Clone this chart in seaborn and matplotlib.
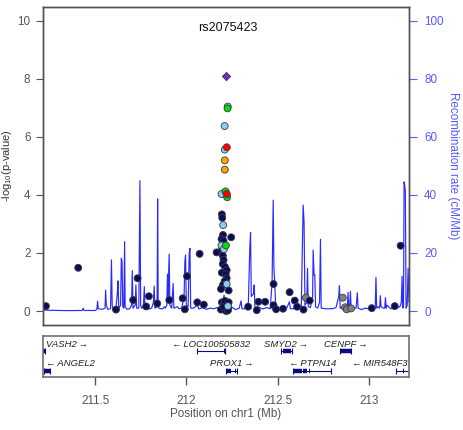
import numpy as np
import pandas as pd
import seaborn as sns
import matplotlib.pyplot as plt

# SNPs: position (Mb), -log10 p, LD bin
navy_pos = [211.231, 211.408, 211.615, 211.709, 211.733, 211.780, 211.795, 211.841, 211.907,
            211.980, 211.992, 212.004, 212.060, 212.073, 212.096, 212.166, 212.246,
            212.195, 212.197, 212.201, 212.193, 212.204, 212.195, 212.200, 212.204, 212.200,
            212.212, 212.221, 212.195, 212.216, 212.221, 212.210, 212.201, 212.190, 212.232,
            212.195, 212.205, 212.215, 212.225, 212.200, 212.210, 212.220, 212.230, 212.190,
            212.218, 212.228, 212.205, 212.212, 212.232,
            212.339, 212.386, 212.395, 212.432, 212.478, 212.478, 212.492, 212.530, 212.566,
            212.594, 212.607, 212.642, 212.676, 213.016, 213.142, 213.174]
navy_logp = [0.17, 1.49, 0.05, 0.38, 1.13, 0.16, 0.51, 0.26, 0.38,
             0.44, 0.06, 1.20, 0.30, 1.97, 0.22, 2.02, 2.54,
             3.33, 3.21, 2.62, 2.48, 2.42, 2.12, 1.91, 1.76, 1.62,
             1.52, 1.41, 1.32, 1.27, 1.13, 1.03, 0.90, 0.76, 0.71,
             0.30, 0.25, 0.20, 0.28, 0.10, 0.05, 0.08, 0.12, 0.05,
             0.00, 0.02, 0.15, 0.35, 0.30,
             0.15, 0.03, 0.32, 0.32, 0.93, 0.20, 0.06, 0.08, 0.65,
             0.36, 0.15, 0.05, 0.36, 0.10, 0.17, 2.25]
lblue_pos = [212.227, 212.210, 212.211, 212.204, 212.193, 212.202, 212.193, 212.206, 212.221, 212.228]
lblue_logp = [7.04, 6.37, 5.56, 4.05, 4.03, 2.96, 2.26, 2.13, 0.93, 0.17]
green_pos = [212.226, 212.215, 212.224, 212.217]
green_logp = [6.98, 4.12, 3.92, 2.26]
orange_pos = [212.211, 212.211]
orange_logp = [5.19, 4.87]
red_pos = [212.222, 212.222]
red_logp = [5.64, 4.03]
grey_pos = [212.655, 212.857, 212.870, 212.879, 212.903]
grey_logp = [0.46, 0.46, 0.13, 0.06, 0.09]

lead_snp = "rs2075423"
lead_pos = [212.220]
lead_logp = [8.09]

# recombination rate (cM/Mb)
recomb_pos = [211.215, 211.230, 211.300, 211.340, 211.430, 211.435, 211.440, 211.500, 211.510, 211.514,
              211.518, 211.540, 211.555, 211.558, 211.562, 211.570, 211.585, 211.590, 211.594, 211.600,
              211.615, 211.622, 211.626, 211.630, 211.640, 211.644, 211.648, 211.652, 211.658, 211.662,
              211.665, 211.675, 211.690, 211.700, 211.704, 211.708, 211.720, 211.724, 211.728, 211.740,
              211.746, 211.750, 211.755, 211.765, 211.770, 211.774, 211.790, 211.810, 211.820, 211.824,
              211.828, 211.840, 211.843, 211.846, 211.850, 211.870, 211.880, 211.885, 211.893, 211.897,
              211.900, 211.906, 211.910, 211.920, 211.928, 211.932, 211.950, 211.960, 211.975, 211.988,
              211.992, 211.996, 212.000, 212.010, 212.016, 212.020, 212.024, 212.040, 212.060, 212.070,
              212.090, 212.110, 212.130, 212.150, 212.170, 212.190, 212.200, 212.207, 212.212, 212.230,
              212.245, 212.270, 212.290, 212.300, 212.305, 212.330, 212.340, 212.348, 212.352, 212.356,
              212.368, 212.372, 212.376, 212.390, 212.420, 212.440, 212.460, 212.470, 212.476, 212.480,
              212.485, 212.490, 212.510, 212.530, 212.550, 212.565, 212.570, 212.590, 212.610, 212.630,
              212.640, 212.645, 212.650, 212.660, 212.664, 212.668, 212.680, 212.692, 212.695, 212.700,
              212.704, 212.708, 212.720, 212.730, 212.735, 212.739, 212.760, 212.800, 212.820, 212.835,
              212.839, 212.843, 212.860, 212.870, 212.875, 212.882, 212.886, 212.890, 212.895, 212.899,
              212.903, 212.930, 212.937, 212.941, 212.960, 212.980, 213.000, 213.020, 213.035, 213.039,
              213.043, 213.050, 213.059, 213.063, 213.067, 213.080, 213.087, 213.091, 213.095, 213.100,
              213.120, 213.150, 213.170, 213.178, 213.182, 213.186, 213.190, 213.193, 213.197, 213.200,
              213.204, 213.210, 213.215, 213.220]
recomb_rate = [0.4, 0.3, 0.2, 0.15, 0.2, 1.0, 0.2, 0.2, 0.5, 3.4,
               0.8, 0.6, 1.0, 7.2, 2.0, 0.6, 0.8, 17.6, 2.0, 0.5,
               1.2, 6.0, 10.4, 1.0, 2.0, 18.2, 17.0, 1.5, 1.0, 23.9,
               1.5, 0.6, 0.8, 2.0, 13.9, 1.0, 2.0, 9.0, 1.0, 1.0,
               44.9, 2.0, 1.0, 1.5, 8.4, 1.0, 0.6, 1.0, 3.0, 8.6,
               1.0, 1.5, 38.6, 3.0, 1.0, 0.7, 1.5, 1.0, 2.0, 12.7,
               5.0, 19.6, 2.0, 1.0, 9.5, 1.0, 1.5, 0.8, 1.0, 5.0,
               17.0, 19.3, 2.0, 1.5, 20.0, 21.6, 1.0, 1.0, 2.0, 0.7,
               1.2, 0.6, 1.0, 0.8, 1.2, 1.0, 2.5, 5.5, 1.0, 0.8,
               1.5, 0.5, 1.0, 3.5, 0.8, 0.8, 3.0, 22.0, 27.0, 5.0,
               6.0, 9.0, 1.0, 1.5, 0.7, 1.2, 0.8, 10.0, 38.2, 15.0,
               9.0, 1.0, 0.6, 0.5, 1.0, 3.2, 0.8, 0.8, 1.0, 1.5,
               36.5, 31.0, 2.0, 3.0, 14.7, 1.5, 1.2, 5.0, 21.0, 12.4,
               12.4, 1.5, 1.0, 3.0, 24.7, 1.0, 0.8, 0.8, 1.2, 5.0,
               8.7, 1.0, 1.0, 2.0, 0.8, 1.0, 6.4, 1.0, 1.0, 6.8,
               1.0, 1.0, 6.3, 1.0, 0.5, 1.0, 0.8, 1.5, 1.0, 11.6,
               1.0, 1.5, 1.0, 5.3, 1.5, 1.0, 1.0, 4.6, 1.0, 2.0,
               0.8, 1.0, 1.5, 3.0, 12.0, 1.0, 2.0, 44.5, 43.0, 41.0,
               1.0, 2.0, 14.7, 3.0]

# genes
gene_names = ["VASH2", "ANGEL2", "LOC100505832", "PROX1", "SMYD2", "CENPF", "PTPN14", "MIR548F3"]
gene_start = [211.200, 211.222, 212.056, 212.218, 212.520, 212.840, 212.585, 213.150]
gene_end = [211.226, 211.256, 212.210, 212.278, 212.578, 212.904, 212.795, 213.230]
gene_strand = ["+", "-", "-", "+", "+", "+", "-", "-"]
gene_row = [0, 1, 0, 1, 0, 0, 1, 1]
exon_start = [[211.215], [211.222], [212.056, 212.133, 212.206], [212.222, 212.268], [212.528],
              [212.845], [212.588, 212.640, 212.672, 212.790], [213.152, 213.188]]
exon_end = [[211.226], [211.256], [212.060, 212.137, 212.210], [212.246, 212.272], [212.576],
            [212.900], [212.636, 212.660, 212.676, 212.795], [213.156, 213.192]]

xlim = (211.215, 213.22)
xticks = [211.5, 212, 212.5, 213]
xticklabels = ["211.5", "212", "212.5", "213"]

sns.set_style("white")
plt.rcParams['font.family'] = ['Liberation Sans', 'DejaVu Sans']
plt.rcParams['mathtext.fontset'] = 'custom'
plt.rcParams['mathtext.rm'] = 'Liberation Sans'

ld_colors = {"0.0-0.2": "#0b0b5c", "0.2-0.4": "#87CEFA", "0.4-0.6": "#00E000",
             "0.6-0.8": "#FFA500", "0.8-1.0": "#FF0000", "NA": "#808080"}
frames = []
for lab, p, v in [("NA", grey_pos, grey_logp), ("0.0-0.2", navy_pos, navy_logp),
                  ("0.2-0.4", lblue_pos, lblue_logp), ("0.4-0.6", green_pos, green_logp),
                  ("0.6-0.8", orange_pos, orange_logp), ("0.8-1.0", red_pos, red_logp)]:
    frames.append(pd.DataFrame({"pos": p, "logp": v, "ld": lab}))
snps = pd.concat(frames, ignore_index=True)

fig = plt.figure(figsize=(4.63, 4.30), dpi=100)
ax = fig.add_axes([43 / 463, 1 - 325 / 430, 366 / 463, 318 / 430])
ax2 = ax.twinx()
ax.set_zorder(ax2.get_zorder() + 1)
ax.patch.set_visible(False)

rec_col = "#2a2aff"
axis_blue = "#5a5aff"
sns.lineplot(x=recomb_pos, y=recomb_rate, ax=ax2, color=rec_col, linewidth=0.85,
             estimator=None, sort=False)

sns.scatterplot(data=snps, x="pos", y="logp", hue="ld", palette=ld_colors, s=25,
                edgecolor="#3a3a3a", linewidth=0.6, legend=False, ax=ax)
sns.scatterplot(x=lead_pos, y=lead_logp, marker="D", color="#7D26CD", s=18,
                edgecolor="#3a3a3a", linewidth=0.6, legend=False, ax=ax)

ax.set_xlim(*xlim)
ax.set_ylim(-0.48, 10.47)
ax2.set_ylim(-4.8, 104.7)
ax.set_yticks(range(0, 11, 2))
ax2.set_yticks(range(0, 101, 20))
ax.set_xticks([])
ax.set_xlabel("")
ax.tick_params(axis="y", left=True, length=5, width=0.8, pad=4, colors="#555555",
               labelsize=8.4, direction="out")
ax2.tick_params(axis="y", right=True, length=5.8, width=0.8, pad=5, colors=axis_blue,
                labelsize=8.4, direction="out")
ax.set_ylabel(r"-log$_{10}$(p-value)", fontsize=8, color="#333333", va="center")
ax.yaxis.set_label_coords(-0.098, 0.5)
ax2.set_ylabel("Recombination rate (cM/Mb)", fontsize=8.4, color=axis_blue,
               rotation=270, va="center")
ax2.yaxis.set_label_coords(1.12, 0.5)
for a in (ax, ax2):
    for sp in a.spines.values():
        sp.set_color("#505050")
        sp.set_linewidth(1.0)
ax.text(0.505, 0.934, lead_snp, transform=ax.transAxes, ha="center", va="center",
        fontsize=9, color="#111111")

# gene panel
gx = fig.add_axes([43 / 463, 1 - 377 / 430, 366 / 463, 41 / 430])
gx.set_xlim(*xlim)
gx.set_ylim(0, 1)
row_gene_y = [0.64, 0.15]
row_label_y = [0.80, 0.32]
gene_col = "#0a0a80"
for name, s, e, st, r, es, ee in zip(gene_names, gene_start, gene_end, gene_strand,
                                     gene_row, exon_start, exon_end):
    gy = row_gene_y[r]
    gx.hlines(gy, s, e, color=gene_col, linewidth=0.8)
    gx.hlines([gy] * len(es), es, ee, color=gene_col, linewidth=3.2)
    gx.vlines([s, e], gy - 0.07, gy + 0.07, color=gene_col, linewidth=0.8)
    lab = name + "\u2009\u2192" if st == "+" else "\u2190\u2009" + name
    gx.text((s + e) / 2, row_label_y[r], lab, ha="center", va="center",
            fontsize=6.8, style="italic", color="#222222")
fig.canvas.draw()
rend = fig.canvas.get_renderer()
gbox = gx.get_window_extent(rend)
for t in gx.texts:
    bb = t.get_window_extent(rend)
    if bb.x0 < gbox.x0 + 2:
        t.set_ha("left")
        t.set_x(gx.transData.inverted().transform((gbox.x0 + 3, 0))[0])
    elif bb.x1 > gbox.x1 - 2:
        t.set_ha("right")
        t.set_x(gx.transData.inverted().transform((gbox.x1 - 2, 0))[0])

gx.set_yticks([])
gx.set_xticks(xticks)
gx.set_xticklabels(xticklabels)
gx.tick_params(axis="x", bottom=True, length=6, width=1.0, pad=7, colors="#555555",
               labelsize=8.4, direction="out")
gx.set_xlabel("Position on chr1 (Mb)", fontsize=8.4, color="#555555", labelpad=1)
for sp in gx.spines.values():
    sp.set_color("#707070")
    sp.set_linewidth(1.2)

fig.savefig("out.png", dpi=100)
